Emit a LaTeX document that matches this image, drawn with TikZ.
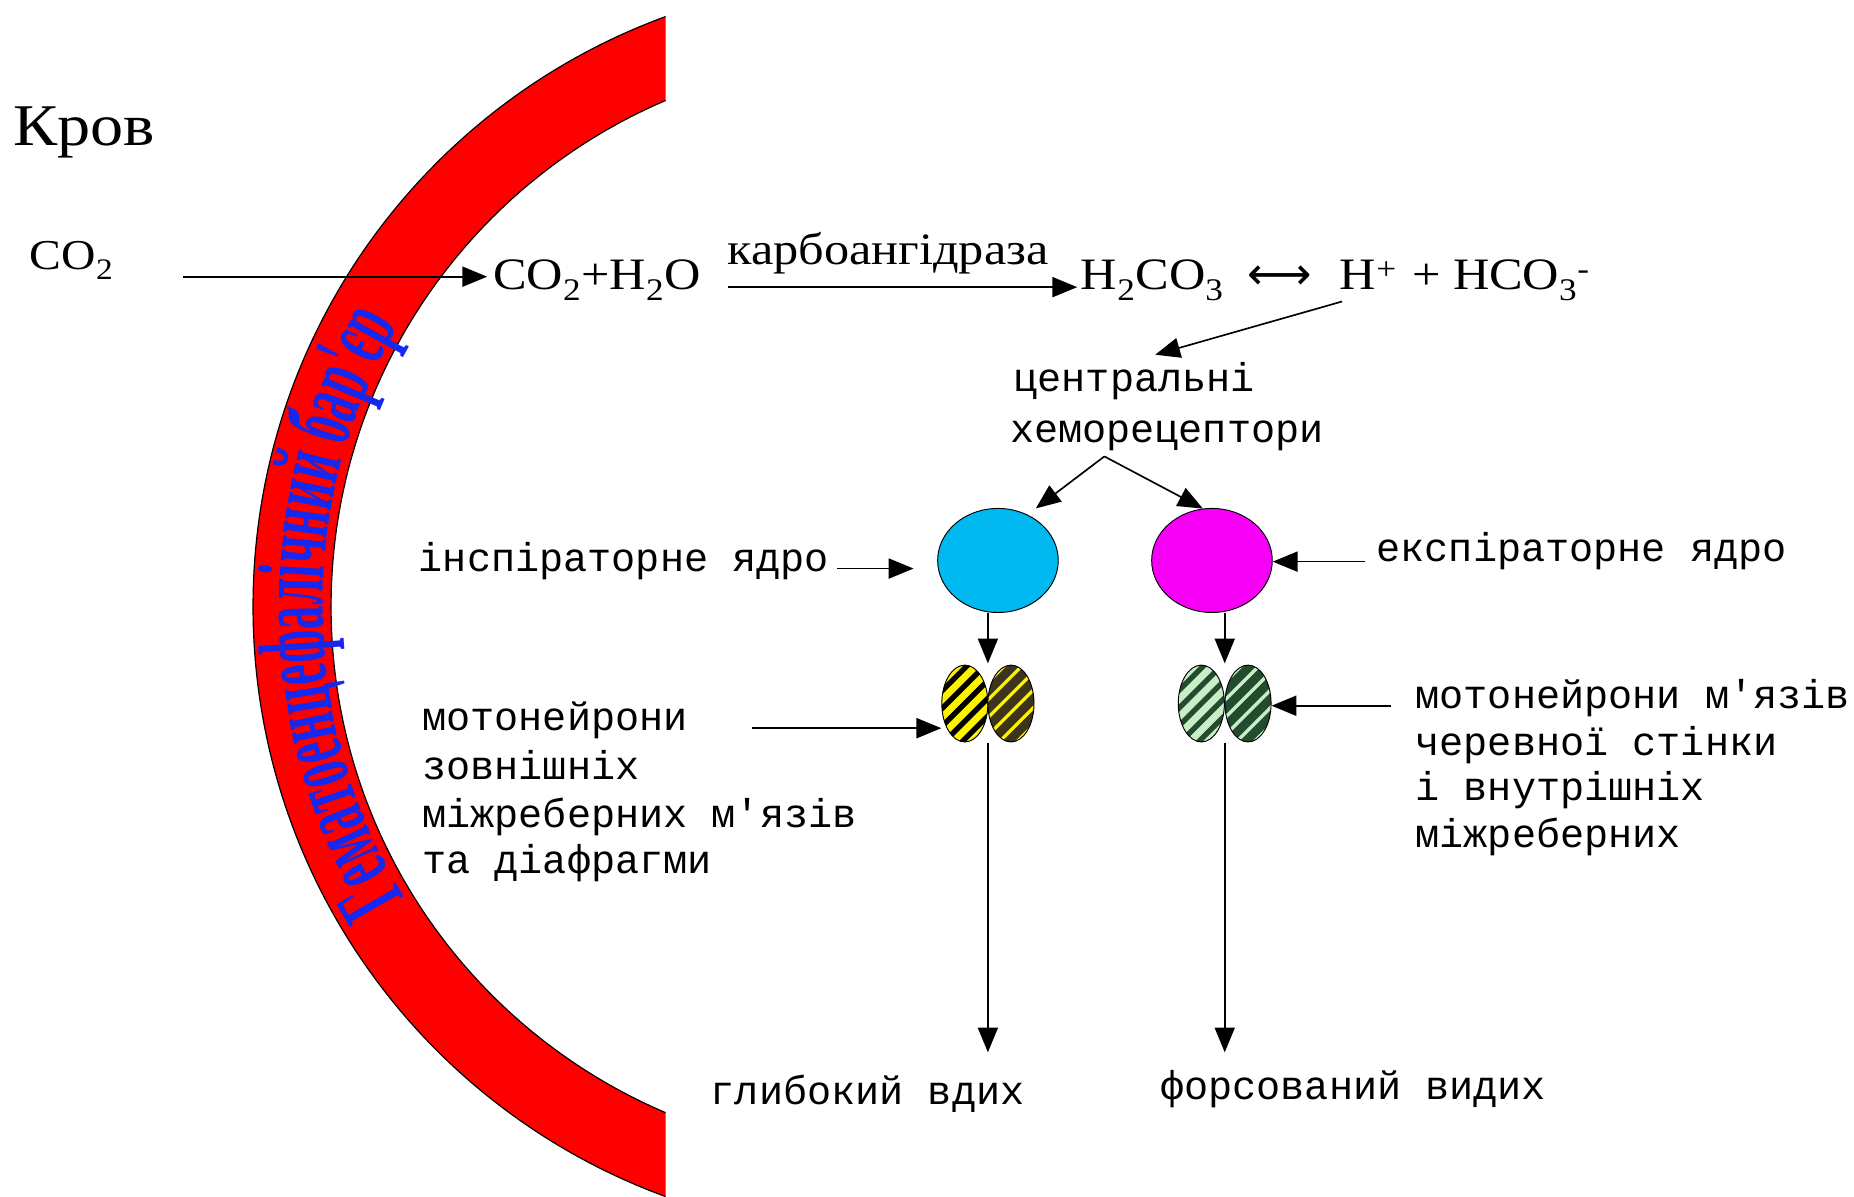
\documentclass[tikz,border=0pt]{standalone}
\usepackage{fontspec}
\newfontfamily\srf[FakeStretch=1.12]{Liberation Serif}
\newfontfamily\mono{Liberation Mono}
\newfontfamily\arcf[FakeStretch=0.5]{Liberation Serif}
\newfontfamily\djv{DejaVu Sans}
\usetikzlibrary{arrows.meta,shapes.geometric,decorations.text,calc}
\definecolor{cblue}{RGB}{0,185,240}
\definecolor{cmag}{RGB}{245,0,245}
\definecolor{ydark}{RGB}{60,52,28}
\definecolor{glight}{RGB}{200,238,200}
\definecolor{gdark}{RGB}{35,75,45}
\definecolor{arcblue}{RGB}{20,40,240}
\begin{document}
\begin{tikzpicture}[x=1pt,y=1pt,
  lbl/.style={font=\mono\fontsize{34}{40}\selectfont, inner sep=0pt, anchor=base west},
  frm/.style={font=\srf\fontsize{38}{44}\selectfont, inner sep=0pt, anchor=base west},
  arr/.style={line width=1.4pt, -{Triangle[length=21pt,width=17pt]}},
  oval/.style={ellipse, draw=black, line width=0.8pt, minimum width=39pt, minimum height=65pt, inner sep=0pt},
  nucleus/.style={ellipse, draw=black, line width=0.8pt, minimum width=102pt, minimum height=88pt, inner sep=0pt},
  hatch/.style n args={3}{fill=#1, path picture={
      \foreach \k in {-6,...,6}{
        \draw[draw=#2, line width=#3] ([shift={(\k*15pt-60pt,-60pt)}]path picture bounding box.center) -- ++(120pt,120pt);
      }}},
]
\useasboundingbox (0,0) rectangle (1568,-1012);
\fill[white] (0,0) rectangle (1568,-1012);

% barrier band
\begin{scope}
  \clip (0,0) rectangle (563,-1012);
  \fill[red, even odd rule] (745,-513) circle[radius=531] (745,-513) circle[radius=465];
  \draw[line width=1pt] (745,-513) circle[radius=531] (745,-513) circle[radius=465];
\end{scope}
\path[decorate, decoration={text along path, text color=arcblue, text align=center,
   text={|\arcf\bfseries\fontsize{80}{80}\selectfont|Гематоенцефалічний бар'єр}}]
   ($(745,-513)+(213.3:472)$) arc[start angle=213.3, end angle=147.9, radius=472];

% texts
\node[frm, font=\srf\fontsize{50}{54}\selectfont] (krov) at (11,-123) {Кров};
\node[frm, font=\srf\fontsize{36}{40}\selectfont] (co2) at (25,-228) {CO\textsubscript{2}};
\node[frm] (co2h2o) at (417,-245) {CO\textsubscript{2}+H\textsubscript{2}O};
\node[frm] (carbo) at (615,-224) {карбоангідраза};
\node[frm] (h2co3) at (914,-245) {H\textsubscript{2}CO\textsubscript{3}};
\node[frm, font=\djv\fontsize{38}{44}\selectfont] (eq) at (1055,-245) {⟷};
\node[frm] (hp) at (1133,-245) {H\textsuperscript{+}};
\node[frm] (hco) at (1194,-245) {+ HCO\textsubscript{3}\textsuperscript{-}};

\node[lbl] (centr) at (857,-331) {центральні};
\node[lbl] (chemo) at (854,-374) {хеморецептори};

\node[nucleus, fill=cblue] (blueN) at (844,-474) {};
\node[nucleus, fill=cmag] (magN) at (1025,-474) {};
\node[lbl] (inspl) at (354,-483) {інспіраторне ядро};
\node[lbl] (expl) at (1164,-475) {експіраторне ядро};

\node[oval, hatch={yellow}{black}{4.5pt}] (yl) at (816,-595) {};
\node[oval, hatch={yellow}{ydark}{7.5pt}] (yr) at (855,-595) {};
\node[oval, hatch={glight}{gdark}{4.5pt}] (gl) at (1016,-595) {};
\node[oval, hatch={glight}{gdark}{7.5pt}] (gr) at (1055.5,-595) {};

\node[lbl] (ml1) at (357,-618) {мотонейрони};
\node[lbl] (ml2) at (357,-659) {зовнішніх};
\node[lbl] (ml3) at (357,-700) {міжреберних м'язів};
\node[lbl] (ml4) at (357,-739) {та діафрагми};

\node[lbl] (mr1) at (1197,-599) {мотонейрони м'язів};
\node[lbl] (mr2) at (1197,-639) {черевної стінки};
\node[lbl] (mr3) at (1197,-677) {і внутрішніх};
\node[lbl] (mr4) at (1197,-717) {міжреберних};

\node[lbl] (deep) at (601,-934) {глибокий вдих};
\node[lbl] (forc) at (981,-930) {форсований видих};

% coordinates
\coordinate (co2s) at (155,-234);
\coordinate (tipC) at (977,-300);
\coordinate (fork) at (934,-386);
\coordinate (tipL) at (876,-430);
\coordinate (ytop) at (835.5,-561);
\coordinate (gtop) at (1035.8,-561);
\coordinate (ybot) at (835.5,-628);
\coordinate (gbot) at (1035.8,-628);
\coordinate (ytip) at (835.5,-890);
\coordinate (gtip) at (1035.8,-890);

% connectors
\draw[arr, shorten >=5pt] (co2s) -- (co2s -| co2h2o.west);
\draw[arr] ([xshift=23pt]co2h2o.mid east) -- ([xshift=-3pt]h2co3.mid west);
\draw[arr] ([shift={(2pt,-10pt)}]hp.base west) -- (tipC);
\draw[arr] (fork) -- (tipL);
\draw[arr] (fork) -- (magN.100);
\draw[arr, shorten <=7pt, shorten >=20pt] (inspl.mid east) -- (inspl.mid east -| blueN.west);
\draw[arr, shorten <=10pt] (expl.base west) -- (expl.base west -| magN.east);
\draw[arr] (blueN.south -| ytop) -- (ytop);
\draw[arr] (magN.south -| gtop) -- (gtop);
\draw[arr, shorten <=54pt] (ml1.mid east) -- (ml1.mid east -| yl.west);
\draw[arr, shorten <=21pt] (mr1.mid west) -- (mr1.mid west -| gr.east);
\draw[arr] (ybot) -- (ytip);
\draw[arr] (gbot) -- (gtip);
\end{tikzpicture}
\end{document}
